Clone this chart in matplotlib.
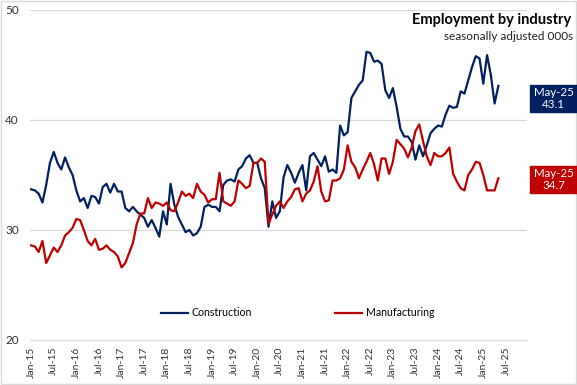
import matplotlib
matplotlib.use("Agg")
import matplotlib.pyplot as plt
from matplotlib.patches import Rectangle

plt.rcParams['font.family'] = ['Lato', 'DejaVu Sans']

# monthly, Jan-15 .. May-25 (000s, seasonally adjusted)
construction = [
    33.7, 33.6, 33.3, 32.5, 34.1, 36.1, 37.1, 36.1, 35.5, 36.6, 35.7, 35.0,
    33.6, 32.6, 32.9, 32.0, 33.1, 33.0, 32.4, 33.9, 34.2, 33.4, 34.2, 33.5,
    33.5, 32.0, 31.7, 32.1, 31.7, 31.4, 31.1, 30.3, 30.9, 30.2, 29.4, 31.7,
    30.5, 34.2, 32.3, 31.2, 30.5, 29.8, 30.0, 29.5, 29.7, 30.3, 32.1, 32.3,
    32.1, 32.1, 31.7, 34.1, 34.5, 34.6, 34.4, 35.5, 35.8, 36.5, 36.8, 36.1,
    36.1, 34.7, 33.8, 30.3, 32.6, 31.1, 31.7, 34.8, 35.9, 35.2, 34.3, 35.2,
    35.9, 33.6, 36.7, 37.0, 36.4, 35.8, 36.7, 35.3, 35.5, 35.2, 39.5, 38.6,
    38.9, 42.0, 42.6, 43.2, 43.6, 46.2, 46.1, 45.3, 45.4, 45.1, 42.7, 42.0,
    42.9, 41.2, 39.2, 38.5, 38.5, 38.0, 36.4, 37.7, 36.7, 37.7, 38.8, 39.2,
    39.5, 39.4, 40.5, 41.3, 41.1, 41.2, 42.6, 42.4, 43.6, 44.8, 45.8, 45.6,
    43.3, 45.9, 44.1, 41.5, 43.1,
]
manufacturing = [
    28.6, 28.5, 28.0, 29.0, 27.0, 27.7, 28.4, 28.0, 28.6, 29.5, 29.8, 30.2,
    31.0, 30.9, 30.0, 29.0, 28.6, 29.2, 28.2, 28.3, 28.6, 28.2, 28.0, 27.6,
    26.6, 27.0, 27.9, 28.8, 30.5, 31.5, 31.5, 32.9, 32.0, 32.5, 32.4, 32.2,
    32.5, 31.8, 31.7, 32.5, 33.5, 33.1, 33.3, 32.9, 34.2, 33.5, 33.2, 32.5,
    32.8, 32.8, 35.2, 32.6, 32.4, 32.2, 32.6, 34.5, 34.2, 33.8, 34.0, 36.1,
    36.1, 36.5, 36.2, 30.6, 31.4, 32.2, 32.6, 32.0, 32.6, 33.0, 33.7, 33.8,
    32.6, 33.3, 33.6, 34.4, 35.8, 33.5, 32.6, 32.7, 34.5, 34.5, 34.7, 35.5,
    37.7, 36.2, 35.7, 34.7, 35.5, 36.2, 37.0, 36.0, 34.5, 36.5, 36.5, 35.1,
    36.2, 38.2, 37.8, 37.4, 36.6, 37.5, 39.0, 39.6, 38.1, 36.7, 35.9, 37.0,
    36.7, 36.7, 37.0, 37.5, 35.1, 34.4, 33.8, 33.6, 35.0, 35.5, 36.2, 36.1,
    35.0, 33.6, 33.6, 33.6, 34.7,
]
months = list(range(len(construction)))

tick_pos = list(range(0, 127, 6))
tick_labels = []
for p in tick_pos:
    yr = 15 + p // 12
    tick_labels.append(("Jan-" if p % 12 == 0 else "Jul-") + str(yr))

navy = "#002060"
red = "#C00000"

fig = plt.figure(figsize=(5.77, 3.85), dpi=100)
ax = fig.add_axes([30 / 577, 1 - 340 / 385, 497 / 577, 330 / 385])

ax.plot(months, construction, color=navy, lw=1.6, label="Construction")
ax.plot(months, manufacturing, color=red, lw=1.6, label="Manufacturing")

ax.set_ylim(20, 50)
ax.set_yticks([20, 30, 40, 50])
ax.set_xlim(-0.3, 131.6)
ax.set_xticks(tick_pos)
ax.set_xticklabels(tick_labels, rotation=90, fontsize=7.5, color="#333333")
ax.tick_params(axis="y", labelsize=8.5, labelcolor="#333333", length=0, pad=8)
ax.tick_params(axis="x", length=0, pad=5)
ax.grid(axis="y", color="#d9d9d9", lw=0.9)
ax.set_axisbelow(True)
for s in ["top", "right", "left"]:
    ax.spines[s].set_visible(False)
ax.spines["bottom"].set_color("#d9d9d9")

ax.legend(loc="center", bbox_to_anchor=(0.538, 0.082), ncol=2, frameon=False,
          fontsize=7.6, handlelength=2.6, columnspacing=7.9, handletextpad=0.3)

fig.text(571 / 577, 1 - 20 / 385, "Employment by industry", ha="right", va="center",
         fontsize=10.5, fontweight="bold", color="black")
fig.text(573 / 577, 1 - 36 / 385, "seasonally adjusted 000s", ha="right", va="center",
         fontsize=8.5, color="#222222")

# end-of-series labels
for val, col, yc in [(construction[-1], navy, 98.5), (manufacturing[-1], red, 179.5)]:
    fig.patches.append(Rectangle((530 / 577, 1 - (yc + 13.5) / 385), 47 / 577, 27 / 385,
                                 transform=fig.transFigure, color=col, zorder=5))
    fig.text(553.5 / 577, 1 - yc / 385, "May-25\n%.1f" % val, ha="center", va="center",
             fontsize=8.3, color="white", linespacing=1.15, zorder=6)

fig.patches.append(Rectangle((0.001, 0.002), 0.997, 0.996, transform=fig.transFigure,
                             fill=False, edgecolor="#d9d9d9", lw=1))

fig.savefig("out.png", dpi=100)
